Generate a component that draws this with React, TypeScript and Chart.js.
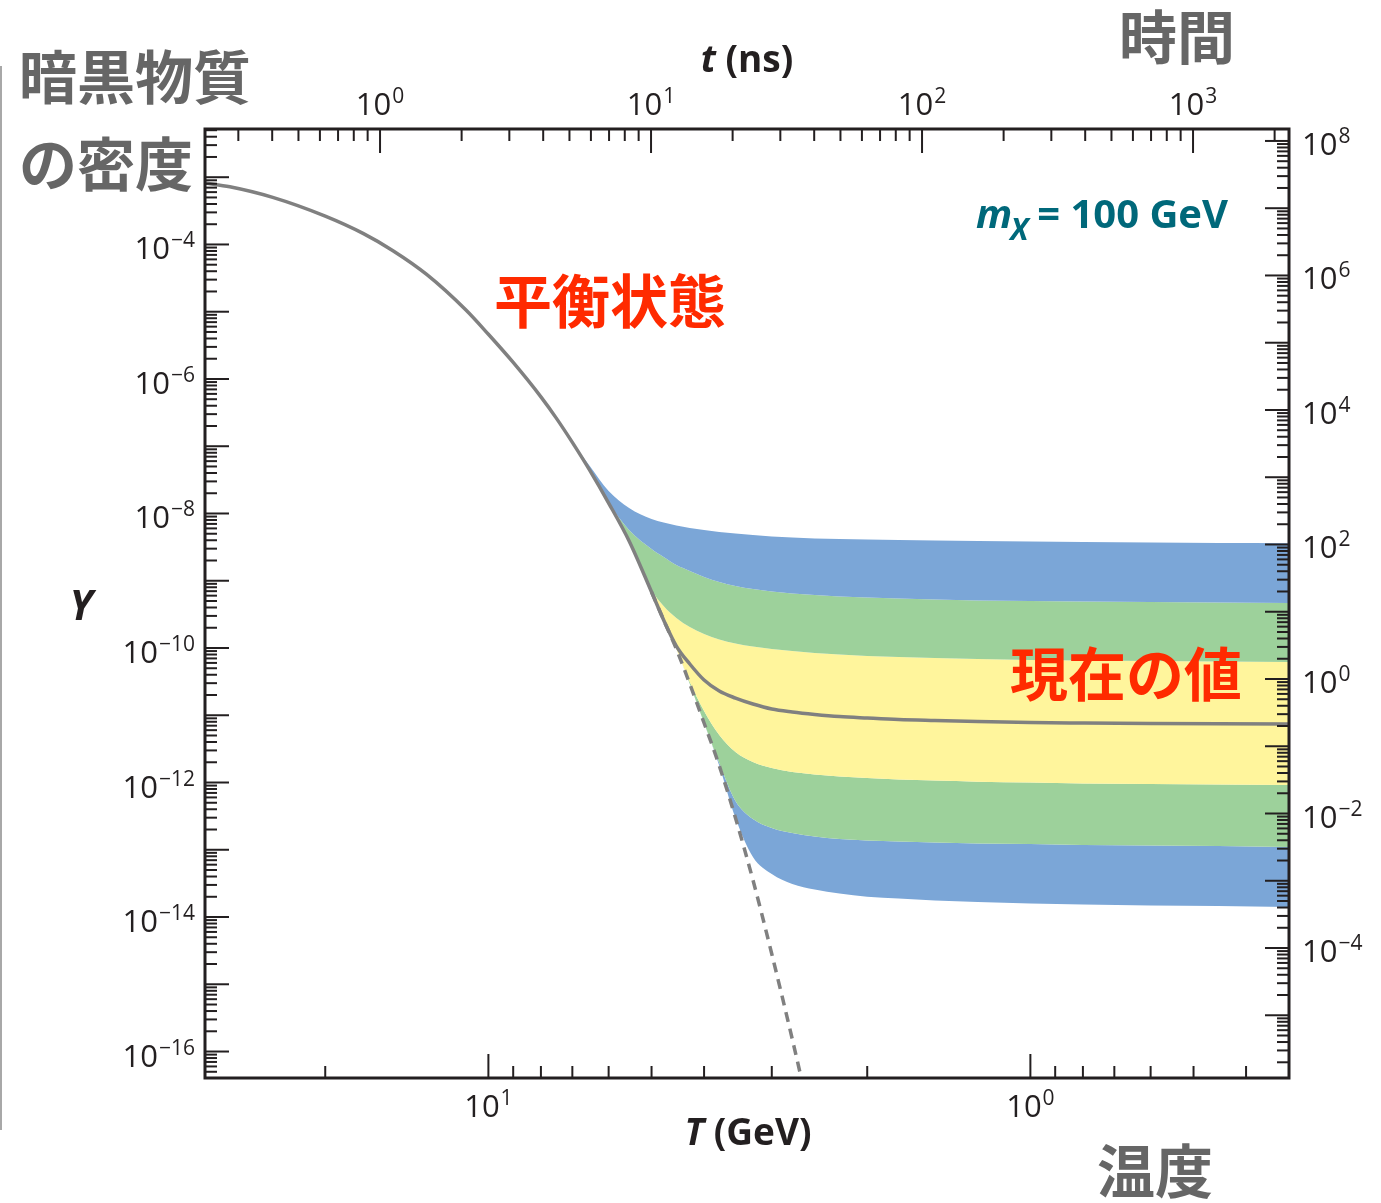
import React, { useEffect, useRef } from 'react';
import { Chart, registerables } from 'chart.js';

Chart.register(...registerables);

const WIDTH = 1381;
const HEIGHT = 1203;
const PLOT = { left: 205, top: 129, right: 1289, bottom: 1078 };

// Axis ranges
const T_RANGE = [0.3333, 33.333]; // temperature, GeV (drawn decreasing to the right)
const Y_RANGE = [4.04e-17, 5.21e-3]; // comoving number density Y
const TIME_RANGE_NS = [0.226, 2260]; // time, ns (top axis)
const OMEGA_PER_Y = 2.89e10; // right-hand axis: relic abundance per unit Y

// Tick marks and labels
const T_TICKS = [20, 10, 9, 8, 7, 6, 5, 4, 3, 2, 1, 0.9, 0.8, 0.7, 0.6, 0.5, 0.4];
const T_MAJOR = [10, 1];
const T_LABEL_EXPS = [1, 0];
const TIME_LABEL_EXPS = [0, 1, 2, 3];
const Y_LABEL_EXPS = [-4, -6, -8, -10, -12, -14, -16];
const OMEGA_LABEL_EXPS = [8, 6, 4, 2, 0, -2, -4];

// Equilibrium curve followed by freeze-out (central cross-section)
const T_EQ = [33.33, 30, 25, 20, 17, 15, 13, 11, 10, 9, 8, 7.5, 7, 6.5, 6, 5.5, 5, 4.75, 4.5, 4.25,
  4, 3.75, 3.5, 3.25, 3, 2.75, 2.5, 2.25, 2, 1.75, 1.5, 1.25, 1, 0.8, 0.6, 0.45, 0.3333];
const Y_SOLID = [8.21e-4, 7.21e-4, 5.02e-4, 2.64e-4, 1.45e-4, 8.09e-5, 3.59e-5, 1.06e-5, 4.62e-6, 1.76e-6,
  5.42e-7, 2.64e-7, 1.14e-7, 4.37e-8, 1.43e-8, 3.9e-9, 6.81e-10, 2.61e-10, 1.07e-10, 5.78e-11,
  3.34e-11, 2.29e-11, 1.8e-11, 1.47e-11, 1.24e-11, 1.12e-11, 1.03e-11, 9.57e-12, 9.1e-12, 8.65e-12,
  8.36e-12, 8.07e-12, 7.8e-12, 7.67e-12, 7.54e-12, 7.46e-12, 7.41e-12];

// Equilibrium continued (dashed)
const T_DASH = [5, 4.75, 4.5, 4.25, 4, 3.75, 3.5, 3.25, 3, 2.75, 2.5];
const Y_DASH = [6.81e-10, 2.61e-10, 9.66e-11, 2.92e-11, 7.67e-12, 1.78e-12, 2.96e-13, 3.55e-14, 2.82e-15, 1.53e-16, 5.35e-18];

// Band edges for varied annihilation cross-sections
const T_BAND = [7, 6.5, 6, 5.5, 5, 4.75, 4.5, 4.25, 4, 3.75, 3.5, 3.25, 3, 2.75, 2.5, 2.25, 2, 1.75, 1.5,
  1.25, 1, 0.8, 0.6, 0.45, 0.3333];
const Y_BLUE_HI = [1.14e-7, 5.09e-8, 2.16e-8, 1.21e-8, 8.28e-9, 7.35e-9, 6.63e-9, 6.08e-9, 5.69e-9, 5.31e-9,
  5.05e-9, 4.79e-9, 4.55e-9, 4.4e-9, 4.25e-9, 4.18e-9, 4.1e-9, 4.04e-9, 3.97e-9, 3.9e-9, 3.84e-9, 3.77e-9,
  3.71e-9, 3.64e-9, 3.62e-9];
const Y_GREEN_HI = [1.14e-7, 4.37e-8, 1.43e-8, 5.69e-9, 2.96e-9, 2.25e-9, 1.71e-9, 1.4e-9, 1.14e-9, 9.58e-10,
  8.36e-10, 7.54e-10, 6.92e-10, 6.46e-10, 6.14e-10, 5.83e-10, 5.64e-10, 5.45e-10, 5.26e-10, 5.08e-10,
  5.0e-10, 4.91e-10, 4.83e-10, 4.75e-10, 4.67e-10];
const Y_YELLOW_HI = [1.14e-7, 4.37e-8, 1.43e-8, 3.9e-9, 7.28e-10, 4.21e-10, 2.79e-10, 2.05e-10, 1.61e-10,
  1.34e-10, 1.17e-10, 1.05e-10, 9.66e-11, 9.02e-11, 8.43e-11, 8.0e-11, 7.6e-11, 7.35e-11, 7.1e-11, 6.86e-11,
  6.64e-11, 6.52e-11, 6.41e-11, 6.3e-11, 6.19e-11];
const Y_YELLOW_LO = [1.14e-7, 4.37e-8, 1.43e-8, 3.9e-9, 6.81e-10, 2.61e-10, 9.66e-11, 3.12e-11, 1.16e-11,
  5.08e-12, 2.84e-12, 2.02e-12, 1.64e-12, 1.43e-12, 1.32e-12, 1.23e-12, 1.17e-12, 1.11e-12, 1.07e-12,
  1.03e-12, 1.0e-12, 9.66e-13, 9.49e-13, 9.33e-13, 9.18e-13];
const Y_GREEN_LO = [1.14e-7, 4.37e-8, 1.43e-8, 3.9e-9, 6.81e-10, 2.61e-10, 9.66e-11, 2.92e-11, 7.67e-12,
  1.95e-12, 5.31e-13, 2.86e-13, 2.1e-13, 1.77e-13, 1.57e-13, 1.44e-13, 1.37e-13, 1.33e-13, 1.28e-13,
  1.24e-13, 1.22e-13, 1.18e-13, 1.16e-13, 1.14e-13, 1.1e-13];
const Y_BLUE_LO = [1.14e-7, 4.37e-8, 1.43e-8, 3.9e-9, 6.81e-10, 2.61e-10, 9.66e-11, 2.92e-11, 7.67e-12,
  1.78e-12, 2.96e-13, 7.8e-14, 4.36e-14, 3.1e-14, 2.56e-14, 2.23e-14, 2.01e-14, 1.88e-14, 1.76e-14,
  1.67e-14, 1.59e-14, 1.53e-14, 1.48e-14, 1.46e-14, 1.41e-14];

const INK = '#231f20';
const CURVE = '#808080';
const BLUE = '#7ba6d7';
const GREEN = '#9dd19b';
const YELLOW = '#fff59c';
const TEAL = '#00687a';
const RED = '#ff2a00';
const JP_GRAY = '#666666';
const LATIN = '"Open Sans", "DejaVu Sans", sans-serif';
const CJK = '"Noto Sans CJK JP", "Noto Sans CJK SC", sans-serif';

const pts = (xs: number[], ys: number[]) => xs.map((x, i) => ({ x, y: ys[i] }));

const bandEdge = (ys: number[], color: string, fill: string | boolean) => ({
  data: pts(T_BAND, ys),
  borderWidth: 0,
  borderColor: 'rgba(0,0,0,0)',
  backgroundColor: color,
  fill,
  pointRadius: 0,
});

// keep a log axis exactly on the requested range (no rounding to tick values)
const lockedLogAxis = (range: number[], extra: Record<string, unknown>) => ({
  type: 'logarithmic',
  min: range[0],
  max: range[1],
  bounds: 'data',
  display: false,
  afterBuildTicks: (scale: any) => {
    scale.min = range[0];
    scale.max = range[1];
  },
  ...extra,
});

function logTicks(min: number, max: number) {
  const out: { v: number; major: boolean }[] = [];
  for (let e = Math.floor(Math.log10(min)); e <= Math.ceil(Math.log10(max)); e++) {
    for (let m = 1; m <= 9; m++) {
      const v = m * Math.pow(10, e);
      if (v >= min * (1 - 1e-9) && v <= max * (1 + 1e-9)) out.push({ v, major: m === 1 });
    }
  }
  return out;
}

const expText = (e: number) => (e < 0 ? '\u2212' + Math.abs(e) : String(e));

function drawPower(ctx: CanvasRenderingContext2D, x: number, baseline: number, e: number, align: string) {
  const baseFont = `31px ${LATIN}`;
  const supFont = `21px ${LATIN}`;
  const sup = expText(e);
  ctx.font = baseFont;
  const wb = ctx.measureText('10').width;
  ctx.font = supFont;
  const we = ctx.measureText(sup).width;
  const total = wb + 1 + we;
  const x0 = align === 'left' ? x : align === 'right' ? x - total : x - total / 2;
  ctx.textAlign = 'left';
  ctx.textBaseline = 'alphabetic';
  ctx.font = baseFont;
  ctx.fillText('10', x0, baseline);
  ctx.font = supFont;
  ctx.fillText(sup, x0 + wb + 1, baseline - 12);
}

function drawRuns(ctx: CanvasRenderingContext2D, runs: [string, string][], cx: number, baseline: number) {
  let total = 0;
  for (const [font, text] of runs) {
    ctx.font = font;
    total += ctx.measureText(text).width;
  }
  let x = cx - total / 2;
  ctx.textAlign = 'left';
  ctx.textBaseline = 'alphabetic';
  for (const [font, text] of runs) {
    ctx.font = font;
    ctx.fillText(text, x, baseline);
    x += ctx.measureText(text).width;
  }
}

const decorations = {
  id: 'decorations',
  afterDraw(chart: any) {
    const { ctx, chartArea: a, scales } = chart;
    const sx = scales.x;
    const sy = scales.y;
    const st = scales.xTime;
    const so = scales.yOmega;
    ctx.save();

    // thin rule at the far left
    ctx.strokeStyle = '#a8a8a8';
    ctx.lineWidth = 2;
    ctx.beginPath();
    ctx.moveTo(1, 66);
    ctx.lineTo(1, 1130);
    ctx.stroke();

    // frame
    ctx.strokeStyle = INK;
    ctx.lineWidth = 3;
    ctx.strokeRect(a.left, a.top, a.right - a.left, a.bottom - a.top);

    // inward tick marks
    ctx.lineWidth = 2;
    const seg = (x1: number, y1: number, x2: number, y2: number) => {
      ctx.beginPath();
      ctx.moveTo(x1, y1);
      ctx.lineTo(x2, y2);
      ctx.stroke();
    };
    for (const t of logTicks(sy.min, sy.max)) {
      const y = sy.getPixelForValue(t.v);
      seg(a.left, y, a.left + (t.major ? 24 : 12), y);
    }
    for (const t of logTicks(so.min, so.max)) {
      const y = so.getPixelForValue(t.v);
      seg(a.right, y, a.right - (t.major ? 24 : 12), y);
    }
    for (const t of logTicks(st.min, st.max)) {
      const x = st.getPixelForValue(t.v);
      seg(x, a.top, x, a.top + (t.major ? 24 : 12));
    }
    for (const v of T_TICKS) {
      const x = sx.getPixelForValue(v);
      seg(x, a.bottom, x, a.bottom - (T_MAJOR.includes(v) ? 24 : 12));
    }

    // tick labels
    ctx.fillStyle = INK;
    for (const e of Y_LABEL_EXPS) drawPower(ctx, a.left - 10, sy.getPixelForValue(Math.pow(10, e)) + 15, e, 'right');
    for (const e of OMEGA_LABEL_EXPS) drawPower(ctx, a.right + 13, so.getPixelForValue(Math.pow(10, e)) + 14, e, 'left');
    for (const e of TIME_LABEL_EXPS) drawPower(ctx, st.getPixelForValue(Math.pow(10, e)), a.top - 14, e, 'center');
    for (const e of T_LABEL_EXPS) drawPower(ctx, sx.getPixelForValue(Math.pow(10, e)), a.bottom + 39, e, 'center');

    // axis titles
    drawRuns(ctx, [[`italic bold 37px ${LATIN}`, 't'], [`bold 37px ${LATIN}`, ' (ns)']], 747, 72);
    drawRuns(ctx, [[`italic bold 37px ${LATIN}`, 'T'], [`bold 37px ${LATIN}`, ' (GeV)']], 748, 1145);
    drawRuns(ctx, [[`italic bold 41px ${LATIN}`, 'Y']], 81, 620);

    // mass label
    ctx.fillStyle = TEAL;
    ctx.textAlign = 'left';
    ctx.textBaseline = 'alphabetic';
    ctx.font = `italic bold 40px ${LATIN}`;
    ctx.fillText('m', 976, 228);
    const wm = ctx.measureText('m').width;
    ctx.font = `italic bold 30px ${LATIN}`;
    ctx.fillText('X', 976 + wm - 2, 240);
    ctx.font = `bold 40px ${LATIN}`;
    ctx.textAlign = 'right';
    ctx.fillText('= 100 GeV', 1228, 228);

    // Japanese annotations
    ctx.textAlign = 'left';
    ctx.textBaseline = 'middle';
    ctx.font = `bold 58px ${CJK}`;
    ctx.fillStyle = JP_GRAY;
    ctx.fillText('暗黒物質', 19, 77);
    ctx.fillText('の密度', 19, 164);
    ctx.fillText('時間', 1119, 37);
    ctx.fillText('温度', 1097, 1171);
    ctx.fillStyle = RED;
    ctx.fillText('平衡状態', 494, 301);
    ctx.fillText('現在の値', 1010, 674);

    ctx.restore();
  },
};

export default function App() {
  const canvasRef = useRef<HTMLCanvasElement>(null);

  useEffect(() => {
    const canvas = canvasRef.current;
    if (!canvas) return;
    const chart = new Chart(canvas, {
      type: 'line',
      data: {
        datasets: [
          {
            data: pts(T_EQ, Y_SOLID),
            borderColor: CURVE,
            borderWidth: 3.5,
            pointRadius: 0,
            fill: false,
          },
          {
            data: pts(T_DASH, Y_DASH),
            borderColor: CURVE,
            borderWidth: 3.5,
            borderDash: [10, 7],
            pointRadius: 0,
            fill: false,
          },
          bandEdge(Y_BLUE_HI, BLUE, '+1'),
          bandEdge(Y_GREEN_HI, GREEN, '+1'),
          bandEdge(Y_YELLOW_HI, YELLOW, '+1'),
          bandEdge(Y_YELLOW_LO, GREEN, '+1'),
          bandEdge(Y_GREEN_LO, BLUE, '+1'),
          bandEdge(Y_BLUE_LO, 'rgba(0,0,0,0)', false),
        ] as any,
      },
      options: {
        responsive: false,
        maintainAspectRatio: false,
        animation: false,
        devicePixelRatio: 1,
        events: [],
        layout: {
          padding: {
            left: PLOT.left,
            top: PLOT.top,
            right: WIDTH - PLOT.right,
            bottom: HEIGHT - PLOT.bottom,
          },
        },
        elements: {
          point: { radius: 0 },
          line: { cubicInterpolationMode: 'monotone' },
        },
        plugins: {
          legend: { display: false },
          tooltip: { enabled: false },
          filler: { propagate: false },
        },
        scales: {
          x: lockedLogAxis(T_RANGE, { reverse: true, position: 'bottom' }),
          y: lockedLogAxis(Y_RANGE, { position: 'left' }),
          xTime: lockedLogAxis(TIME_RANGE_NS, { axis: 'x', position: 'top' }),
          yOmega: lockedLogAxis([Y_RANGE[0] * OMEGA_PER_Y, Y_RANGE[1] * OMEGA_PER_Y], {
            axis: 'y',
            position: 'right',
          }),
        },
      } as any,
      plugins: [decorations],
    });
    return () => chart.destroy();
  }, []);

  return (
    <div style={{ position: 'fixed', left: 0, top: 0, width: WIDTH, height: HEIGHT, background: '#fff' }}>
      <canvas ref={canvasRef} width={WIDTH} height={HEIGHT} style={{ display: 'block' }} />
    </div>
  );
}
